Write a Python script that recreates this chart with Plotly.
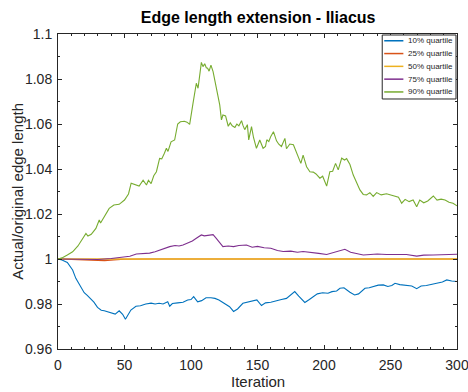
import plotly.graph_objects as go

# ---- data: edge length ratio per iteration, one series per quantile ----
iter_p10 = [0, 3, 7, 11, 13.4, 17, 19.7, 22, 24.7, 27, 29.7, 32.5, 34.8, 37, 40, 43, 46, 48.6, 50.7, 52,
            54.8, 58.6, 62, 66, 70, 73, 76, 79, 82.5, 84, 86, 90, 94, 97.5, 100, 102, 104, 105, 108,
            111.3, 115, 118, 121, 125, 129, 132, 135, 139, 143, 146, 149.5, 153, 156, 160, 164, 168,
            171.8, 175, 178, 181, 185.6, 189, 191.9, 195, 199, 203, 206, 209.5, 212, 215, 219.5, 223,
            226, 230.8, 234, 237.5, 240.8, 244.6, 248, 251, 253.4, 257, 262, 266, 269.7, 273, 277, 280,
            282.2, 286, 289, 292.3, 296, 300]
val_p10 = [1.0, 0.9996, 0.9985, 0.9951, 0.9914, 0.9877, 0.9850, 0.9838, 0.9822, 0.9808, 0.9785, 0.9772,
           0.9770, 0.9766, 0.9762, 0.9755, 0.9770, 0.9754, 0.9732, 0.9745, 0.9773, 0.9790, 0.9792, 0.9800,
           0.9804, 0.9800, 0.9803, 0.9800, 0.9810, 0.9790, 0.9802, 0.9805, 0.9808, 0.9818, 0.9820, 0.9833,
           0.9820, 0.9810, 0.9815, 0.9828, 0.9828, 0.9825, 0.9818, 0.9803, 0.9788, 0.9767, 0.9778, 0.9803,
           0.9810, 0.9814, 0.9818, 0.9793, 0.9805, 0.9808, 0.9815, 0.9820, 0.9825, 0.9840, 0.9855, 0.9835,
           0.9807, 0.9820, 0.9833, 0.9845, 0.9850, 0.9848, 0.9855, 0.9858, 0.9870, 0.9872, 0.9852, 0.9840,
           0.9845, 0.9870, 0.9872, 0.9878, 0.9884, 0.9885, 0.9878, 0.9882, 0.9892, 0.9886, 0.9883, 0.9880,
           0.9868, 0.9880, 0.9882, 0.9886, 0.9888, 0.9892, 0.9898, 0.9907, 0.9902, 0.9900]

iter_p25 = [0, 10, 20, 28, 35, 42, 50, 70, 100, 150, 200, 230, 260, 300]
val_p25 = [1.0, 0.9998, 0.9995, 0.9993, 0.9993, 0.9996, 0.9999, 1.0, 1.0, 1.0, 0.9999, 0.9998, 0.9999, 1.0]

iter_p50 = [0, 50, 100, 150, 200, 250, 300]
val_p50 = [1.0, 1.0, 1.0, 1.0, 1.0, 1.0, 1.0]

iter_p75 = [0, 10, 20, 30, 40, 48.8, 54, 58.9, 64, 68.9, 73, 76.4, 80, 84, 88, 91, 94, 97, 99, 101, 104,
            106, 107.8, 110, 113, 116.6, 119, 121, 124, 128, 132, 136, 141.7, 146, 150, 155, 160, 165,
            169.3, 175, 180, 184.3, 190, 196, 202, 207, 212, 215.7, 220, 225, 229.5, 235, 240, 247, 255,
            262, 269.7, 275, 282, 290, 300]
val_p75 = [1.0, 0.9999, 0.9999, 0.9998, 1.0002, 1.0008, 1.0012, 1.0022, 1.0024, 1.0026, 1.0032, 1.0040,
           1.0048, 1.0055, 1.0060, 1.0058, 1.0062, 1.0070, 1.0077, 1.0080, 1.0092, 1.0100, 1.0107, 1.0103,
           1.0105, 1.0108, 1.0092, 1.0075, 1.0055, 1.0058, 1.0055, 1.0060, 1.0062, 1.0052, 1.0056, 1.0050,
           1.0048, 1.0038, 1.0033, 1.0035, 1.0030, 1.0033, 1.0030, 1.0025, 1.0020, 1.0028, 1.0035, 1.0043,
           1.0030, 1.0025, 1.0018, 1.0020, 1.0022, 1.0020, 1.0019, 1.0020, 1.0013, 1.0017, 1.0018, 1.0020,
           1.0021]

iter_p90 = [0, 3, 7, 11, 15, 18, 21, 22.5, 25, 28.5, 31, 32, 36, 38.5, 42, 46, 50, 53, 55, 57.5, 61, 64,
            66.5, 68, 70, 72, 74, 76.4, 78, 80, 81.5, 82.7, 85, 87.7, 90, 92, 95, 97, 99, 101.5, 104,
            105.3, 107.8, 109, 110.3, 111.5, 112.5, 113.6, 115, 116.6, 119, 121.6, 122.9, 124, 126, 128,
            129.5, 131, 133, 134.5, 136, 138, 139, 140.4, 142.4, 143.4, 145.5, 147, 149.2, 151.7, 154.2,
            156, 157, 158.5, 160, 162, 164.3, 166, 168, 170.6, 171.8, 174.3, 177, 180, 182.6, 184.3,
            186.9, 189.4, 191.9, 194, 196.9, 199, 202, 204.4, 206.5, 208.7, 210.7, 213.3, 215.5, 217,
            219.5, 222, 224.6, 227, 229.5, 232, 234.5, 237, 239.6, 243, 247, 252, 256, 258.4, 261, 264,
            267, 269.7, 272, 275, 278, 282.2, 285, 288, 291, 294, 297, 300]
val_p90 = [1.0, 1.0005, 1.0018, 1.0032, 1.0058, 1.0084, 1.0114, 1.0102, 1.0110, 1.0136, 1.0173, 1.0160,
           1.0203, 1.0225, 1.0240, 1.0243, 1.0262, 1.0289, 1.0337, 1.0333, 1.0324, 1.0350, 1.0329, 1.0350,
           1.0335, 1.0370, 1.0388, 1.0447, 1.0445, 1.0470, 1.0492, 1.0478, 1.0521, 1.0529, 1.0600, 1.0610,
           1.0612, 1.0608, 1.0598, 1.0692, 1.0781, 1.0759, 1.0874, 1.0855, 1.0868, 1.0850, 1.0848, 1.0835,
           1.0862, 1.0833, 1.0765, 1.0685, 1.0618, 1.0640, 1.0636, 1.0590, 1.0605, 1.0592, 1.0585, 1.0600,
           1.0592, 1.0615, 1.0595, 1.0575, 1.0597, 1.0529, 1.0588, 1.0540, 1.0492, 1.0529, 1.0492, 1.0500,
           1.0530, 1.0522, 1.0545, 1.0566, 1.0525, 1.0510, 1.0500, 1.0536, 1.0490, 1.0511, 1.0508, 1.0462,
           1.0425, 1.0462, 1.0410, 1.0388, 1.0386, 1.0378, 1.0359, 1.0368, 1.0324, 1.0388, 1.0390, 1.0425,
           1.0396, 1.0448, 1.0440, 1.0446, 1.0420, 1.0373, 1.0336, 1.0307, 1.0287, 1.0285, 1.0295, 1.0278,
           1.0295, 1.0285, 1.0290, 1.0283, 1.0275, 1.0248, 1.0265, 1.0255, 1.0262, 1.0232, 1.0262, 1.0250,
           1.0258, 1.0280, 1.0262, 1.0266, 1.0262, 1.0252, 1.0248, 1.0236]

series_names = ["10% quartile", "25% quartile", "50% quartile", "75% quartile", "90% quartile"]
series_iters = [iter_p10, iter_p25, iter_p50, iter_p75, iter_p90]
series_vals = [val_p10, val_p25, val_p50, val_p75, val_p90]

x_ticks = [0, 50, 100, 150, 200, 250, 300]
y_ticks = [0.96, 0.98, 1.0, 1.02, 1.04, 1.06, 1.08, 1.1]
y_tick_text = ["0.96", "0.98", "1", "1.02", "1.04", "1.06", "1.08", "1.1"]

x_title = "Iteration"
y_title = "Actual/original edge length"
chart_title = "Edge length extension - Iliacus"

# ---- styling ----
colors = ["#0072BD", "#D95319", "#EDB120", "#7E2F8E", "#77AC30"]
widths = [1.1, 1.1, 1.7, 1.1, 1.1]
ink = "#262626"
font_family = "Liberation Sans, Arial, sans-serif"

fig = go.Figure()
for name, xs, ys, c, w in zip(series_names, series_iters, series_vals, colors, widths):
    fig.add_trace(go.Scatter(x=xs, y=ys, mode="lines", name=name,
                             line=dict(color=c, width=w), showlegend=False))

axis_common = dict(
    showline=True, linecolor=ink, linewidth=1, mirror="ticks",
    ticks="inside", ticklen=4, tickwidth=1, tickcolor=ink,
    showgrid=False, zeroline=False, automargin=False, ticklabeloverflow="allow",
    tickfont=dict(family=font_family, size=14, color=ink),
)

fig.update_xaxes(range=[0, 300], tickvals=x_ticks, ticklabelstandoff=3,
                 minor=dict(dtick=10, ticks="inside", ticklen=2, tickcolor=ink),
                 **axis_common)
fig.update_yaxes(range=[0.96, 1.1], tickvals=y_ticks, ticktext=y_tick_text, ticklabelstandoff=2,
                 minor=dict(dtick=0.01, ticks="inside", ticklen=2, tickcolor=ink),
                 **axis_common)

# axis titles placed just outside the tick labels
fig.add_annotation(xref="paper", yref="paper", x=0.5, y=-0.102, text=x_title,
                   showarrow=False, xanchor="center", yanchor="middle",
                   font=dict(family=font_family, size=15, color=ink))
fig.add_annotation(xref="paper", yref="paper", x=-0.102, y=0.5, text=y_title,
                   showarrow=False, xanchor="center", yanchor="middle", textangle=-90,
                   font=dict(family=font_family, size=15, color=ink))

# ---- boxed legend in the upper-right corner of the axes ----
leg_left, leg_right, leg_top, leg_bottom = 0.8126, 0.9975, 0.9968, 0.7937
fig.add_shape(type="rect", xref="paper", yref="paper",
              x0=leg_left, x1=leg_right, y0=leg_bottom, y1=leg_top,
              line=dict(color=ink, width=1), fillcolor="white", layer="above")
row_h = (leg_top - leg_bottom) / len(series_names)
for i, (name, c) in enumerate(zip(series_names, colors)):
    yc = leg_top - row_h * (i + 0.45)
    fig.add_shape(type="line", xref="paper", yref="paper",
                  x0=leg_left + 0.005, x1=leg_left + 0.053, y0=yc, y1=yc,
                  line=dict(color=c, width=1.5), layer="above")
    fig.add_annotation(xref="paper", yref="paper", x=leg_left + 0.060, y=yc,
                       text=name, showarrow=False, xanchor="left", yanchor="middle",
                       font=dict(family=font_family, size=8, color=ink))

fig.update_layout(
    width=468, height=392,
    margin=dict(l=58, r=11, t=34, b=43),
    paper_bgcolor="white", plot_bgcolor="white",
    title=dict(text=chart_title, x=0.5515, xanchor="center",
               y=0.955, yanchor="middle",
               font=dict(family=font_family, size=16, color="black", weight="bold")),
)

fig.write_html("out.html")
